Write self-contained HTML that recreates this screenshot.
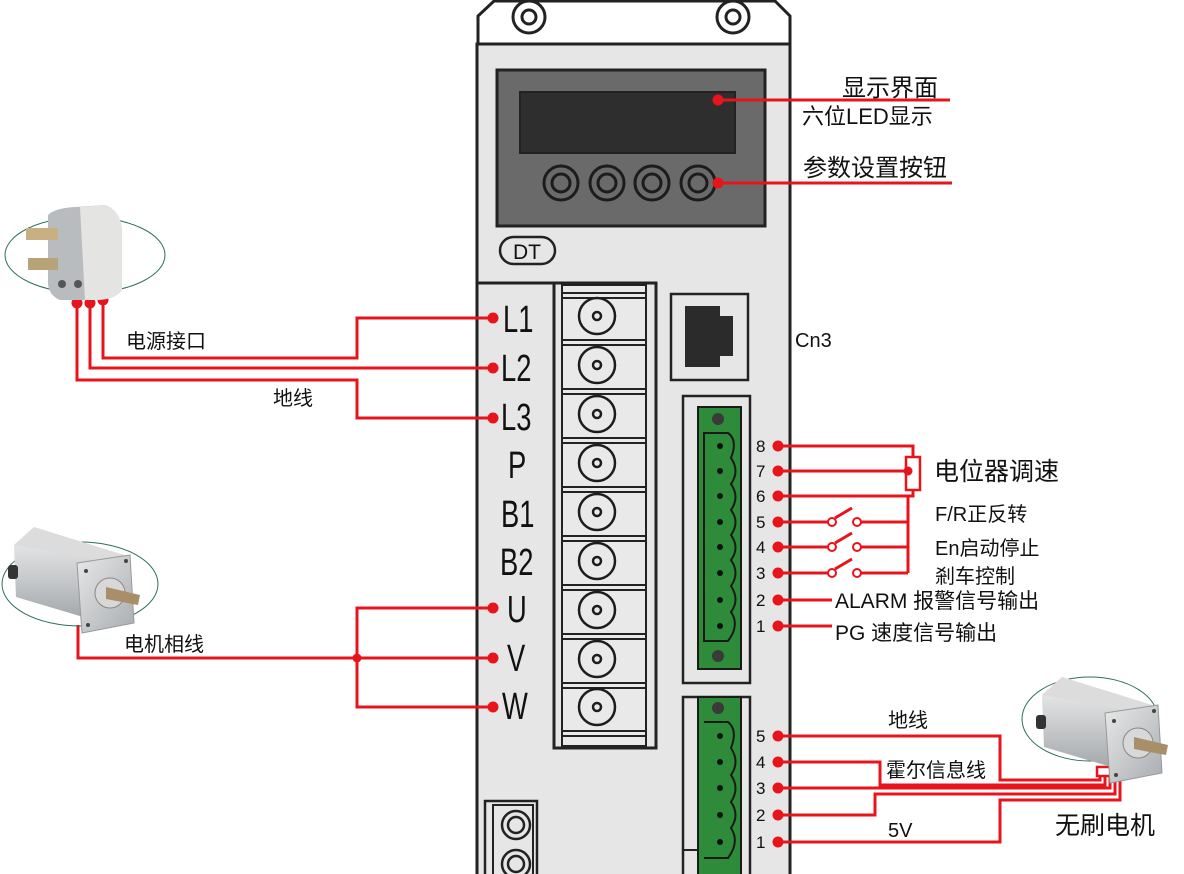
<!DOCTYPE html>
<html><head><meta charset="utf-8"><style>
html,body{margin:0;padding:0;background:#fff;}
svg{display:block;}
text{font-family:"Liberation Sans","Noto Sans CJK SC",sans-serif;fill:#111;}
</style></head><body>
<svg width="1184" height="874" viewBox="0 0 1184 874" xmlns="http://www.w3.org/2000/svg">
<defs>
<linearGradient id="mg" x1="0" y1="0" x2="0" y2="1"><stop offset="0" stop-color="#f2f2f2"/><stop offset="0.5" stop-color="#c9cbcd"/><stop offset="1" stop-color="#9ea2a6"/></linearGradient>
<linearGradient id="fg" x1="0" y1="0" x2="1" y2="1"><stop offset="0" stop-color="#e8e8e8"/><stop offset="1" stop-color="#a9adb1"/></linearGradient>
<g id="motor">
<polygon points="12,30 32,12 122,40 108,110 14,82" fill="url(#mg)"/>
<polygon points="12,30 32,12 122,40 100,46" fill="#dcdcdc"/>
<rect x="6" y="50" width="10" height="14" rx="3" fill="#333"/>
<polygon points="75,48 128,40 132,108 80,118" fill="url(#fg)" stroke="#999"/>
<circle cx="108" cy="78" r="15" fill="#d8d8d8" stroke="#888"/>
<polygon points="104,72 138,80 136,90 104,84" fill="#a88f6a"/>
<circle cx="84" cy="56" r="2" fill="#444"/><circle cx="124" cy="46" r="2" fill="#444"/><circle cx="86" cy="110" r="2" fill="#444"/>
</g>
</defs>

<polygon points="478,44 478,16 494,1 775,1 790,16 790,44" fill="#fff" stroke="#222" stroke-width="3"/>
<circle cx="529" cy="17" r="16" fill="#fff" stroke="#222" stroke-width="3"/><circle cx="529" cy="17" r="7" fill="#fff" stroke="#222" stroke-width="3"/>
<circle cx="733" cy="17" r="16" fill="#fff" stroke="#222" stroke-width="3"/><circle cx="733" cy="17" r="7" fill="#fff" stroke="#222" stroke-width="3"/>
<rect x="477" y="44" width="313" height="840" fill="#e6e6e6" stroke="#222" stroke-width="3"/>
<rect x="497" y="70" width="268" height="156" fill="#6a6a6a" stroke="#222" stroke-width="3"/>
<rect x="520" y="92" width="215" height="61" fill="#2e2e2e" stroke="#222" stroke-width="2"/>
<g fill="none" stroke="#1c1c1c" stroke-width="3">
<circle cx="561" cy="183" r="17"/><circle cx="561" cy="183" r="9"/>
<circle cx="607" cy="183" r="17"/><circle cx="607" cy="183" r="9"/>
<circle cx="652" cy="183" r="17"/><circle cx="652" cy="183" r="9"/>
<circle cx="698" cy="183" r="17"/><circle cx="698" cy="183" r="9"/>
</g>
<rect x="500" y="237" width="55" height="27" rx="13.5" fill="none" stroke="#222" stroke-width="2.5"/>
<text x="527" y="259" font-size="21" text-anchor="middle">DT</text>
<line x1="477" y1="283" x2="555" y2="283" stroke="#222" stroke-width="3"/>

<rect x="554" y="283" width="102" height="465" fill="#e6e6e6" stroke="#222" stroke-width="3"/>
<rect x="562" y="285" width="84" height="461" fill="#e9e9e9" stroke="#222" stroke-width="2"/>
<g stroke="#222" stroke-width="2" fill="none">
<line x1="562" y1="293" x2="646" y2="293"/><line x1="562" y1="298" x2="646" y2="298"/>
<line x1="562" y1="340" x2="646" y2="340"/><line x1="562" y1="345" x2="646" y2="345"/>
<line x1="562" y1="389" x2="646" y2="389"/><line x1="562" y1="394" x2="646" y2="394"/>
<line x1="562" y1="438" x2="646" y2="438"/><line x1="562" y1="443" x2="646" y2="443"/>
<line x1="562" y1="487" x2="646" y2="487"/><line x1="562" y1="492" x2="646" y2="492"/>
<line x1="562" y1="536" x2="646" y2="536"/><line x1="562" y1="541" x2="646" y2="541"/>
<line x1="562" y1="585" x2="646" y2="585"/><line x1="562" y1="590" x2="646" y2="590"/>
<line x1="562" y1="634" x2="646" y2="634"/><line x1="562" y1="639" x2="646" y2="639"/>
<line x1="562" y1="683" x2="646" y2="683"/><line x1="562" y1="688" x2="646" y2="688"/>
<line x1="562" y1="731" x2="646" y2="731"/><line x1="562" y1="736" x2="646" y2="736"/>
</g>
<g fill="none" stroke="#1c1c1c" stroke-width="2.5">
<circle cx="597" cy="316" r="18"/><circle cx="597" cy="316" r="4"/>
<circle cx="597" cy="365" r="18"/><circle cx="597" cy="365" r="4"/>
<circle cx="597" cy="414" r="18"/><circle cx="597" cy="414" r="4"/>
<circle cx="597" cy="463" r="18"/><circle cx="597" cy="463" r="4"/>
<circle cx="597" cy="512" r="18"/><circle cx="597" cy="512" r="4"/>
<circle cx="597" cy="561" r="18"/><circle cx="597" cy="561" r="4"/>
<circle cx="597" cy="610" r="18"/><circle cx="597" cy="610" r="4"/>
<circle cx="597" cy="659" r="18"/><circle cx="597" cy="659" r="4"/>
<circle cx="597" cy="707" r="18"/><circle cx="597" cy="707" r="4"/>
</g>
<g font-size="38">
<text transform="translate(503,332) scale(0.72,1)">L1</text>
<text transform="translate(501,381) scale(0.72,1)">L2</text>
<text transform="translate(501,430) scale(0.72,1)">L3</text>
<text transform="translate(508,478) scale(0.72,1)">P</text>
<text transform="translate(501,527) scale(0.72,1)">B1</text>
<text transform="translate(500,575) scale(0.72,1)">B2</text>
<text transform="translate(507,622) scale(0.72,1)">U</text>
<text transform="translate(507,671) scale(0.72,1)">V</text>
<text transform="translate(502,719) scale(0.72,1)">W</text>
</g>

<rect x="671" y="294" width="77" height="86" fill="#e6e6e6" stroke="#222" stroke-width="2.5"/>
<polygon points="685,306 720,306 720,316 733,316 733,356 720,356 720,367 685,367" fill="#2b2b2b"/>
<text x="795" y="347" font-size="20">Cn3</text>

<rect x="683" y="396" width="67" height="287" fill="#e6e6e6" stroke="#222" stroke-width="2.5"/>
<rect x="698" y="407" width="43" height="262" fill="#2e8b3a" stroke="#1a1a1a" stroke-width="2"/>
<path d="M704,433 L728,433 Q738,440 731,458 Q740,471 731,484 Q740,497 731,510 Q740,522 731,535 Q740,548 731,560 Q740,573 731,586 Q740,600 731,612 Q740,625 728,641 L704,641 Z" fill="none" stroke="#1a1a1a" stroke-width="2"/>
<circle cx="718" cy="419" r="6" fill="#3a3a3a"/><circle cx="718" cy="656" r="6" fill="#3a3a3a"/>
<g fill="#111"><circle cx="720" cy="446" r="3"/><circle cx="720" cy="471" r="3"/><circle cx="720" cy="496" r="3"/><circle cx="720" cy="522" r="3"/><circle cx="720" cy="547" r="3"/><circle cx="720" cy="573" r="3"/><circle cx="720" cy="600" r="3"/><circle cx="720" cy="626" r="3"/></g>
<g font-size="17">
<text x="756" y="452">8</text><text x="756" y="477">7</text><text x="756" y="502">6</text><text x="756" y="528">5</text><text x="756" y="553">4</text><text x="756" y="579">3</text><text x="756" y="606">2</text><text x="756" y="632">1</text>
</g>

<rect x="683" y="697" width="67" height="190" fill="#e6e6e6" stroke="#222" stroke-width="2.5"/>
<rect x="698" y="697" width="43" height="190" fill="#2e8b3a" stroke="#1a1a1a" stroke-width="2"/>
<path d="M704,722 L728,722 Q738,730 731,748 Q740,762 731,775 Q740,788 731,802 Q740,815 731,828 Q740,842 728,858 L704,858" fill="none" stroke="#1a1a1a" stroke-width="2"/>
<line x1="683" y1="850" x2="698" y2="850" stroke="#222" stroke-width="2"/>
<circle cx="718" cy="708" r="6" fill="#3a3a3a"/>
<g fill="#111"><circle cx="720" cy="736" r="3"/><circle cx="720" cy="762" r="3"/><circle cx="720" cy="788" r="3"/><circle cx="720" cy="815" r="3"/><circle cx="720" cy="842" r="3"/></g>
<g font-size="17">
<text x="756" y="742">5</text><text x="756" y="768">4</text><text x="756" y="794">3</text><text x="756" y="821">2</text><text x="756" y="848">1</text>
</g>

<rect x="485" y="801" width="52" height="80" fill="#e6e6e6" stroke="#222" stroke-width="2.5"/>
<rect x="493" y="805" width="40" height="76" fill="none" stroke="#222" stroke-width="2"/>
<circle cx="516" cy="825" r="14" fill="none" stroke="#222" stroke-width="2.5"/><circle cx="516" cy="825" r="8" fill="none" stroke="#222" stroke-width="2.5"/>
<circle cx="516" cy="864" r="14" fill="none" stroke="#222" stroke-width="2.5"/><circle cx="516" cy="864" r="8" fill="none" stroke="#222" stroke-width="2.5"/>

<g stroke="#e8141c" stroke-width="3" fill="none">
<line x1="718" y1="100" x2="950" y2="100"/>
<line x1="718" y1="183" x2="952" y2="183"/>
<polyline points="103,300 103,358 357,358 357,318 493,318"/>
<polyline points="90,303 90,368 493,368"/>
<polyline points="77,303 77,380 357,380 357,418 493,418"/>
<polyline points="78,625 78,658 493,658"/>
<polyline points="493,608 357,608 357,707 493,707"/>
<polyline points="778,446 913,446 913,457"/>
<line x1="778" y1="471" x2="908" y2="471"/>
<polyline points="778,496 913,496 913,490"/>
<line x1="908" y1="496" x2="908" y2="573"/>
<line x1="778" y1="522" x2="829" y2="522"/><line x1="860" y1="522" x2="908" y2="522"/>
<line x1="778" y1="547" x2="829" y2="547"/><line x1="860" y1="547" x2="908" y2="547"/>
<line x1="778" y1="573" x2="829" y2="573"/><line x1="860" y1="573" x2="908" y2="573"/>
<line x1="835" y1="518" x2="852" y2="508"/><line x1="835" y1="543" x2="852" y2="533"/><line x1="835" y1="569" x2="852" y2="559"/>
<line x1="778" y1="600" x2="832" y2="600"/>
<line x1="778" y1="626" x2="832" y2="626"/>
<polyline points="778,736 1000,736 1000,780 1100,780 1100,776"/>
<polyline points="778,762 880,762 880,785 1105,785 1105,776"/>
<polyline points="778,788 1110,788 1110,776"/>
<polyline points="778,815 875,815 875,794 1115,794 1115,776"/>
<polyline points="778,842 1000,842 1000,800 1120,800 1120,776"/>
</g>
<rect x="906" y="457" width="14" height="33" fill="#fff" stroke="#e8141c" stroke-width="2.5"/>
<rect x="1097" y="767" width="24" height="9" fill="#fff" stroke="#e8141c" stroke-width="2.5"/>
<g fill="#fff" stroke="#e8141c" stroke-width="2">
<circle cx="832" cy="522" r="4"/><circle cx="857" cy="522" r="4"/>
<circle cx="832" cy="547" r="4"/><circle cx="857" cy="547" r="4"/>
<circle cx="832" cy="573" r="4"/><circle cx="857" cy="573" r="4"/>
</g>
<g fill="#e8141c">
<circle cx="718" cy="100" r="5.5"/><circle cx="718" cy="183" r="5.5"/>
<circle cx="493" cy="318" r="5.5"/><circle cx="493" cy="368" r="5.5"/><circle cx="493" cy="418" r="5.5"/>
<circle cx="493" cy="608" r="5.5"/><circle cx="493" cy="658" r="5.5"/><circle cx="493" cy="707" r="5.5"/>
<circle cx="357" cy="658" r="4.5"/>
<circle cx="77" cy="303" r="5.5"/><circle cx="90" cy="303" r="5.5"/><circle cx="103" cy="300" r="5.5"/>
<circle cx="778" cy="446" r="5.5"/><circle cx="778" cy="471" r="5.5"/><circle cx="778" cy="496" r="5.5"/><circle cx="778" cy="522" r="5.5"/><circle cx="778" cy="547" r="5.5"/><circle cx="778" cy="573" r="5.5"/><circle cx="778" cy="600" r="5.5"/><circle cx="778" cy="626" r="5.5"/>
<circle cx="908" cy="471" r="4.5"/>
<circle cx="778" cy="736" r="5.5"/><circle cx="778" cy="762" r="5.5"/><circle cx="778" cy="788" r="5.5"/><circle cx="778" cy="815" r="5.5"/><circle cx="778" cy="842" r="5.5"/>
</g>

<ellipse cx="85" cy="255" rx="80" ry="38" fill="none" stroke="#2f6f5a" stroke-width="1"/>
<path d="M48,215 Q55,208 75,207 L105,205 Q120,210 122,230 L122,290 Q115,300 95,300 L60,300 Q50,296 48,285 Z" fill="#b9bcbf"/>
<path d="M80,207 L105,205 Q120,210 122,230 L122,290 Q115,300 95,300 L85,300 Z" fill="#e4e4e2"/>
<rect x="26" y="228" width="32" height="12" fill="#c9b083"/>
<rect x="28" y="258" width="30" height="12" fill="#b8a27a"/>
<circle cx="62" cy="284" r="4" fill="#555"/><circle cx="78" cy="284" r="4" fill="#555"/>

<ellipse cx="80" cy="584" rx="78" ry="42" fill="none" stroke="#2f6f5a" stroke-width="1"/>
<use href="#motor" transform="translate(2,515)"/>
<ellipse cx="1090" cy="719" rx="68" ry="42" fill="none" stroke="#2f6f5a" stroke-width="1"/>
<use href="#motor" transform="translate(1030,665)"/>

<text x="842" y="96" font-size="24">显示界面</text>
<text x="802" y="124" font-size="22">六位LED显示</text>
<text x="803" y="176" font-size="24">参数设置按钮</text>
<text x="126" y="348" font-size="20">电源接口</text>
<text x="273" y="405" font-size="20">地线</text>
<text x="124" y="651" font-size="20">电机相线</text>
<text x="934" y="480" font-size="25">电位器调速</text>
<text x="935" y="521" font-size="20">F/R正反转</text>
<text x="935" y="555" font-size="20">En启动停止</text>
<text x="935" y="583" font-size="20">剎车控制</text>
<text x="835" y="608" font-size="21">ALARM 报警信号输出</text>
<text x="835" y="640" font-size="21">PG 速度信号输出</text>
<text x="888" y="727" font-size="20">地线</text>
<text x="886" y="777" font-size="20">霍尔信息线</text>
<text x="888" y="837" font-size="20">5V</text>
<text x="1055" y="834" font-size="25">无刷电机</text>
</svg>
</body></html>
